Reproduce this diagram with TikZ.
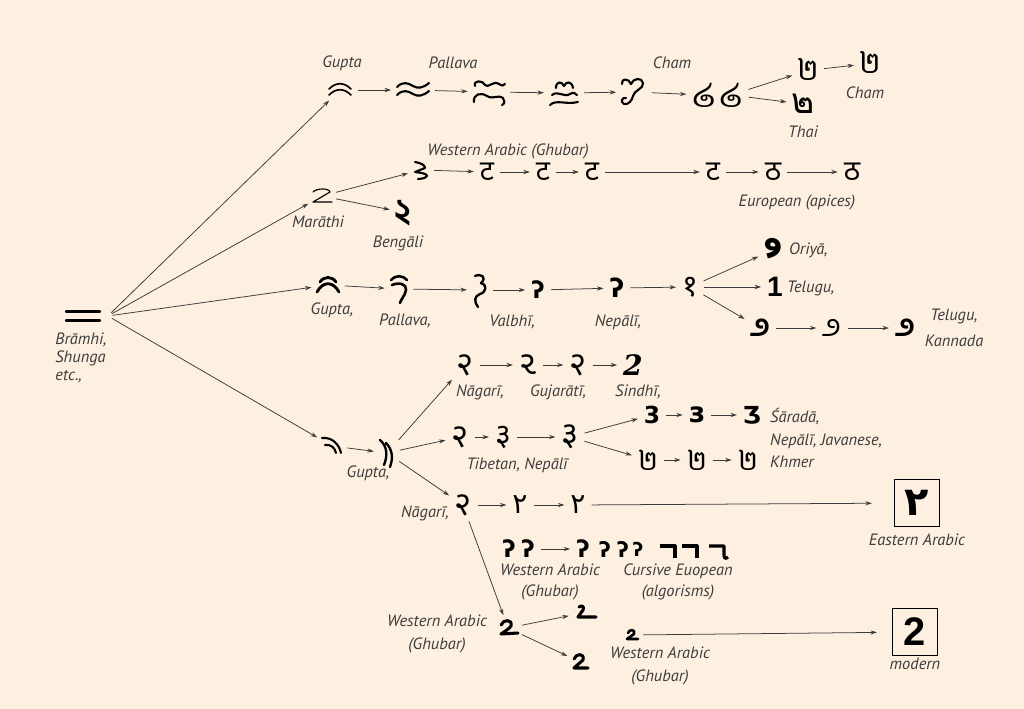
\documentclass[tikz,border=0pt]{standalone}
\usepackage{fontspec}
\setmainfont{PT Sans}
\newfontfamily\devfont[Script=Devanagari]{Noto Sans}
\newfontfamily\bengfont[Script=Bengali]{Hind Siliguri}
\newfontfamily\oriyafont[Script=Oriya]{Noto Sans Oriya UI}
\newfontfamily\kanfont[Script=Kannada]{Hind Mysuru}
\newfontfamily\gujfont[Script=Gujarati]{Noto Sans Gujarati UI}
\newfontfamily\thaifont[Script=Thai]{Loma}
\newfontfamily\laofont[Script=Lao]{Dhyana}
\newfontfamily\khmerfont[Script=Khmer]{Battambang}
\newfontfamily\arabicfont[Script=Arabic]{DejaVu Sans}
\newfontfamily\symfont{DejaVu Sans}
\newfontfamily\modfont{Liberation Sans}
\newfontfamily\cursfont{DejaVu Serif}
\usetikzlibrary{arrows.meta}

\definecolor{paper}{RGB}{253,240,224}
\definecolor{ink}{RGB}{60,60,60}

\newcommand\labelfont{\itshape\fontsize{14}{18}\selectfont}
\newcommand\gs[1]{\fontsize{#1}{#1}\selectfont}

\begin{document}
\begin{tikzpicture}[x=0.03cm,y=-0.03cm,
  lbl/.style={font=\labelfont,text=ink,align=center,inner sep=0pt},
  gl/.style={inner sep=1pt},
  flat glyph/.style={inner sep=0pt,anchor=base,text depth=0pt,text height=#1},
  shape glyph/.style={inner sep=0pt},
  pen/.style={line width=#1,line cap=round,line join=round},
  pen/.default=1.8pt,
  arr/.style={draw=ink,line width=0.65pt,-{Stealth[length=5.5pt,width=3.6pt]},shorten <=4pt,shorten >=4pt},
  numbox/.style={draw=black,line width=1.1pt,minimum width=38pt,minimum height=40pt,inner sep=0pt}]
\fill[paper] (0,0) rectangle (1024,709);

% Brahmi root
\node[shape glyph,minimum width=42pt,minimum height=10pt] (brahmi) at (83,316) {};
\draw[pen=2pt,shift={(brahmi)}] (-17,-4.5) -- (17,-4.5) (-17,4.5) -- (17,4.5);
\node[lbl,align=left,font=\itshape\fontsize{14}{15.5}\selectfont] (brahmiL) at (81,358) {Brāmhi,\\Shunga\\etc.,};

% first branch: Gupta -> Pallava -> Cham, Thai
\node[shape glyph,minimum width=22pt,minimum height=12pt] (r1a) at (340,90) {};
\draw[pen=1.4pt,shift={(r1a)}] (-11,-1) .. controls (-4,-8) and (4,-8) .. (11,-1)
  (-11,5) .. controls (-4,-2) and (4,-2) .. (11,5);
\node[shape glyph,minimum width=29pt,minimum height=14pt] (r1b) at (413,90) {};
\draw[pen=1.8pt,shift={(r1b)}] (-16,-3) .. controls (-10,-9) and (-5,-7) .. (0,-4) .. controls (5,-1) and (10,-2) .. (16,-7)
  (-16,5) .. controls (-10,-1) and (-5,1) .. (0,4) .. controls (5,7) and (10,6) .. (16,1);
\node[shape glyph,minimum width=28pt,minimum height=24pt] (r1c) at (489,92) {};
\draw[pen=1.8pt,shift={(r1c)}] (-14,-6) .. controls (-16,-12) and (-6,-12) .. (-4,-7) .. controls (-1,-3) and (4,-12) .. (10,-8) .. controls (13,-6) and (15,-6) .. (16,-8)
  (-15,10) .. controls (-16,2) and (-8,0) .. (-2,4) .. controls (4,8) and (10,2) .. (14,6) .. controls (16,8) and (16,12) .. (13,13);
\node[shape glyph,minimum width=26pt,minimum height=24pt] (r1d) at (564,93) {};
\draw[pen=1.8pt,shift={(r1d)}] (-8,-5) .. controls (-8,-12) and (-2,-12) .. (0,-7) .. controls (2,-12) and (8,-12) .. (9,-5)
  (-12,2) .. controls (-6,-3) and (0,5) .. (6,1) .. controls (9,-1) and (12,0) .. (13,2)
  (-14,12) .. controls (-8,6) and (2,12) .. (14,9);
\node[shape glyph,minimum width=22pt,minimum height=26pt] (r1e) at (634,92) {};
\draw[pen=1.8pt,shift={(r1e)}] (-12,-8) .. controls (-13,-14) and (-5,-14) .. (-3,-8) .. controls (-1,-14) and (8,-15) .. (9,-9) .. controls (10,-3) and (0,-2) .. (-1,4) .. controls (-2,9) and (-6,13) .. (-10,12) .. controls (-14,10) and (-12,5) .. (-8,6);
\node[gl] (r1f) at (704,95) {\laofont\gs{28}໒};
\node[gl] (r1g) at (731,95) {\laofont\gs{28}໒};
\node[flat glyph=18pt] (r1h) at (808,81) {\khmerfont\gs{26}២};
\node[flat glyph=18pt] (r1i) at (870,74) {\khmerfont\gs{26}២};
\node[flat glyph=17pt] (r1j) at (803,114) {\thaifont\gs{30}๒};
\node[lbl] (r1aL) at (342,63) {Gupta};
\node[lbl] (r1bL) at (453,63) {Pallava};
\node[lbl] (r1eL) at (672,63) {Cham};
\node[lbl] (r1iL) at (865,93) {Cham};
\node[lbl] (r1jL) at (803,132) {Thai};
\draw[arr] (brahmi.east) -- (r1a);
\draw[arr] (r1a) -- (r1b);
\draw[arr] (r1b) -- (r1c);
\draw[arr] (r1c) -- (r1d);
\draw[arr] (r1d) -- (r1e);
\draw[arr] (r1e) -- (r1f);
\draw[arr] (r1g) -- (r1h);
\draw[arr] (r1g) -- (r1j);
\draw[arr] (r1h) -- (r1i);

% second branch: Marathi -> Ghubar -> apices, Bengali
\node[shape glyph,minimum width=16pt,minimum height=12pt] (r2z) at (322,196) {};
\draw[pen=1pt,shift={(r2z)}] (-9,-4) .. controls (-5,-8) and (7,-8) .. (8,-4) -- (-9,6) -- (10,6);
\node[flat glyph=20pt] (r2bn) at (403,224) {\bengfont\bfseries\gs{30}২};
\node[shape glyph,minimum width=14pt,minimum height=16pt] (r2a) at (421,170) {};
\draw[pen=1.8pt,shift={(r2a)}] (-6,-8) .. controls (0,-7) and (4,-5) .. (4,-2) -- (-6,2) .. controls (2,3) and (6,4) .. (6,6) .. controls (5,8) and (0,9) .. (-3,9);
\node[gl] (r2b) at (487,172) {\devfont\gs{24}ट};
\node[gl] (r2c) at (543,172) {\devfont\gs{24}ट};
\node[gl] (r2d) at (592,172) {\devfont\gs{24}ट};
\node[gl] (r2e) at (713,172) {\devfont\bfseries\gs{24}ट};
\node[gl] (r2f) at (773,172) {\devfont\gs{24}ठ};
\node[gl] (r2g) at (852,172) {\devfont\bfseries\gs{24}ठ};
\node[lbl] (r2zL) at (318,222) {Marāthi};
\node[lbl] (r2bnL) at (398,243) {Bengāli};
\node[lbl] (r2aL) at (508,151) {Western Arabic (Ghubar)};
\node[lbl] (r2gL) at (797,202) {European (apices)};
\draw[arr] (brahmi.east) -- (r2z);
\draw[arr] (r2z) -- (r2a);
\draw[arr] (r2z) -- (r2bn);
\draw[arr] (r2a) -- (r2b);
\draw[arr] (r2b) -- (r2c);
\draw[arr] (r2c) -- (r2d);
\draw[arr] (r2d) -- (r2e);
\draw[arr] (r2e) -- (r2f);
\draw[arr] (r2f) -- (r2g);

% third branch: Gupta -> Pallava -> Valbhi -> Nepali -> Oriya, Telugu, Kannada
\node[shape glyph,minimum width=20pt,minimum height=16pt] (r3a) at (328,285) {};
\draw[pen=2.4pt,shift={(r3a)}] (-8,-3) .. controls (-4,-9) and (4,-9) .. (8,-3)
  (-11,7) .. controls (-5,-4) and (5,-4) .. (11,7);
\node[shape glyph,minimum width=16pt,minimum height=26pt] (r3b) at (399,289) {};
\draw[pen=2.2pt,shift={(r3b)}] (-8,-9) .. controls (-4,-14) and (4,-14) .. (8,-9)
  (-7,-4) .. controls (0,-7) and (8,-5) .. (7,1) .. controls (6,7) and (2,10) .. (1,14);
\node[shape glyph,minimum width=14pt,minimum height=30pt] (r3c) at (480,290) {};
\draw[pen=2pt,shift={(r3c)}] (-5,-14) .. controls (2,-17) and (7,-12) .. (1,-7) .. controls (7,-6) and (7,2) .. (0,4) .. controls (-6,6) and (-6,12) .. (-2,17);
\node[gl] (r3d) at (538,290) {\symfont\bfseries\gs{20}ʔ};
\node[gl] (r3e) at (617,288) {\symfont\bfseries\gs{22}ʔ};
\node[gl] (r3f) at (690,287) {\devfont\bfseries\gs{26}१};
\node[gl] (r3g) at (773,250) {\oriyafont\bfseries\gs{26}୨};
\node[gl] (r3h) at (775,287) {\modfont\bfseries\gs{24}1};
\node[gl] (r3i) at (760,328) {\kanfont\bfseries\gs{26}೨};
\node[gl] (r3j) at (832,328) {\kanfont\gs{26}೨};
\node[gl] (r3k) at (905,328) {\kanfont\bfseries\gs{26}೨};
\node[lbl] (r3aL) at (332,310) {Gupta,};
\node[lbl] (r3bL) at (405,321) {Pallava,};
\node[lbl] (r3cL) at (512,322) {Valbhī,};
\node[lbl] (r3eL) at (618,322) {Nepālī,};
\node[lbl,anchor=west] (r3gL) at (789,250) {Oriyā,};
\node[lbl,anchor=west] (r3hL) at (787,288) {Telugu,};
\node[lbl,font=\itshape\fontsize{14}{22}\selectfont] (r3kL) at (954,328) {Telugu,\\Kannada};
\draw[arr] (brahmi.east) -- (r3a);
\draw[arr] (r3a) -- (r3b);
\draw[arr] (r3b) -- (r3c);
\draw[arr] (r3c) -- (r3d);
\draw[arr] (r3d) -- (r3e);
\draw[arr] (r3e) -- (r3f);
\draw[arr] (r3f) -- (r3g);
\draw[arr] (r3f) -- (r3h);
\draw[arr] (r3f) -- (r3i);
\draw[arr] (r3i) -- (r3j);
\draw[arr] (r3j) -- (r3k);

% fourth branch: Gupta -> Nagari, Tibetan, Eastern and Western Arabic
\node[shape glyph,minimum width=18pt,minimum height=16pt] (r4a) at (332,446) {};
\draw[pen=1.8pt,shift={(r4a)}] (-10,-8) .. controls (0,-9) and (7,-2) .. (9,7)
  (-7,-1) .. controls (-1,-2) and (3,2) .. (4,7);
\node[shape glyph,minimum width=14pt,minimum height=26pt] (r4b) at (387,453) {};
\draw[pen=2pt,shift={(r4b)}] (-7,-13) .. controls (0,-7) and (1,2) .. (-3,12)
  (-1,-10) .. controls (6,-3) and (6,6) .. (3,14);
\node[gl] (n1) at (465,365) {\devfont\gs{28}२};
\node[gl] (n2) at (528,365) {\gujfont\gs{28}૨};
\node[gl] (n3) at (578,365) {\devfont\bfseries\gs{28}२};
\node[gl] (n4) at (633,365) {\cursfont\bfseries\itshape\gs{24}2};
\node[gl] (t1) at (460,437) {\devfont\gs{28}२};
\node[gl] (t2) at (503,437) {\devfont\bfseries\gs{26}३};
\node[gl] (t3) at (570,437) {\devfont\bfseries\gs{28}३};
\node[gl] (s1) at (652,415) {\symfont\bfseries\gs{20}3};
\node[gl] (s2) at (697,415) {\symfont\bfseries\gs{24}з};
\node[gl] (s3) at (752,415) {\symfont\bfseries\gs{20}Ʒ};
\node[gl] (k1) at (648,460) {\khmerfont\gs{24}២};
\node[gl] (k2) at (697,460) {\khmerfont\gs{24}២};
\node[gl] (k3) at (748,460) {\khmerfont\gs{24}២};
\node[gl] (a1) at (463,505) {\devfont\bfseries\gs{28}२};
\node[gl] (a2) at (520,505) {\arabicfont\gs{24}۲};
\node[gl] (a3) at (578,505) {\arabicfont\gs{24}٢};
\node[numbox] (ea) at (917,503) {\arabicfont\bfseries\gs{34}٢};
\node[gl] (h1) at (509,549) {\symfont\bfseries\gs{20}ʔ};
\node[gl] (h2) at (528,549) {\symfont\bfseries\gs{20}ʔ};
\node[gl] (h3) at (583,549) {\symfont\bfseries\gs{20}ʔ};
\node[gl] (h4) at (605,549) {\symfont\bfseries\gs{18}ʔ};
\node[gl] (h5) at (623,549) {\symfont\bfseries\gs{18}ʔ};
\node[gl] (h6) at (638,549) {\symfont\bfseries\gs{16}ʔ};
\node[shape glyph,minimum width=14pt,minimum height=12pt] (h7) at (668,551) {};
\draw[pen=2.6pt,line cap=butt,shift={(h7)}] (-8,-5) -- (7,-5) -- (7,7);
\node[shape glyph,minimum width=14pt,minimum height=12pt] (h8) at (690,551) {};
\draw[pen=2.6pt,line cap=butt,shift={(h8)}] (-8,-5) -- (7,-5) -- (7,7);
\node[shape glyph,minimum width=16pt,minimum height=12pt] (h9) at (718,551) {};
\draw[pen=2.6pt,line cap=butt,shift={(h9)}] (-9,-5) -- (6,-5) -- (6,4) .. controls (6,8) and (8,8) .. (10,6);
\node[shape glyph,minimum width=16pt,minimum height=14pt] (w1) at (508,628) {};
\draw[pen=2.6pt,shift={(w1)}] (-7,-3) .. controls (-5,-9) and (5,-9) .. (3,-2) .. controls (1,1) and (-4,4) .. (-7,6) -- (10,5);
\node[shape glyph,minimum width=16pt,minimum height=12pt] (w2) at (583,613) {};
\draw[pen=2.6pt,shift={(w2)}] (-4,-6) .. controls (-2,-8) and (2,-7) .. (0,-3) -- (-5,4) -- (13,4);
\node[shape glyph,minimum width=14pt,minimum height=14pt] (w3) at (580,662) {};
\draw[pen=2.6pt,shift={(w3)}] (-6,-3) .. controls (-4,-9) and (5,-9) .. (3,-2) -- (-6,6) -- (8,6);
\node[shape glyph,minimum width=11pt,minimum height=10pt] (w4) at (632,635) {};
\draw[pen=2.2pt,shift={(w4)}] (-4,-2) .. controls (-3,-6) and (4,-6) .. (2,-1) -- (-5,4) -- (6,4);
\node[numbox] (mo) at (915,632) {\modfont\bfseries\gs{34}2};
\node[lbl] (r4bL) at (368,473) {Gupta,};
\node[lbl] (n1L) at (480,392) {Nāgarī,};
\node[lbl] (n2L) at (558,392) {Gujarātī,};
\node[lbl] (n4L) at (638,392) {Sindhī,};
\node[lbl] (t2L) at (517,465) {Tibetan, Nepālī};
\node[lbl,anchor=west,align=left,font=\itshape\fontsize{14}{19.5}\selectfont] (s3L) at (770,438) {Śāradā,\\Nepālī, Javanese,\\Khmer};
\node[lbl] (a1L) at (425,513) {Nāgarī,};
\node[lbl] (eaL) at (917,540) {Eastern Arabic};
\node[lbl] (h3L) at (550,582) {Western Arabic\\(Ghubar)};
\node[lbl] (h8L) at (678,582) {Cursive Euopean\\(algorisms)};
\node[lbl,font=\itshape\fontsize{14}{19}\selectfont] (w1L) at (437,634) {Western Arabic\\(Ghubar)};
\node[lbl,font=\itshape\fontsize{14}{19}\selectfont] (w4L) at (660,666) {Western Arabic\\(Ghubar)};
\node[lbl] (moL) at (915,664) {modern};
\draw[arr] (brahmi.east) -- (r4a);
\draw[arr] (r4a) -- (r4b);
\draw[arr] (r4b) -- (n1);
\draw[arr] (r4b) -- (t1);
\draw[arr] (r4b) -- (a1);
\draw[arr] (n1) -- (n2);
\draw[arr] (n2) -- (n3);
\draw[arr] (n3) -- (n4);
\draw[arr] (t1) -- (t2);
\draw[arr] (t2) -- (t3);
\draw[arr] (t3) -- (s1);
\draw[arr] (t3) -- (k1);
\draw[arr] (s1) -- (s2);
\draw[arr] (s2) -- (s3);
\draw[arr] (k1) -- (k2);
\draw[arr] (k2) -- (k3);
\draw[arr] (a1) -- (a2);
\draw[arr] (a2) -- (a3);
\draw[arr,shorten >=19pt] (a3) -- (ea);
\draw[arr] (h2) -- (h3);
\draw[arr] (a1) -- (w1);
\draw[arr] (w1) -- (w2);
\draw[arr] (w1) -- (w3);
\draw[arr,shorten >=13pt] (w4) -- (mo);
\end{tikzpicture}
\end{document}
